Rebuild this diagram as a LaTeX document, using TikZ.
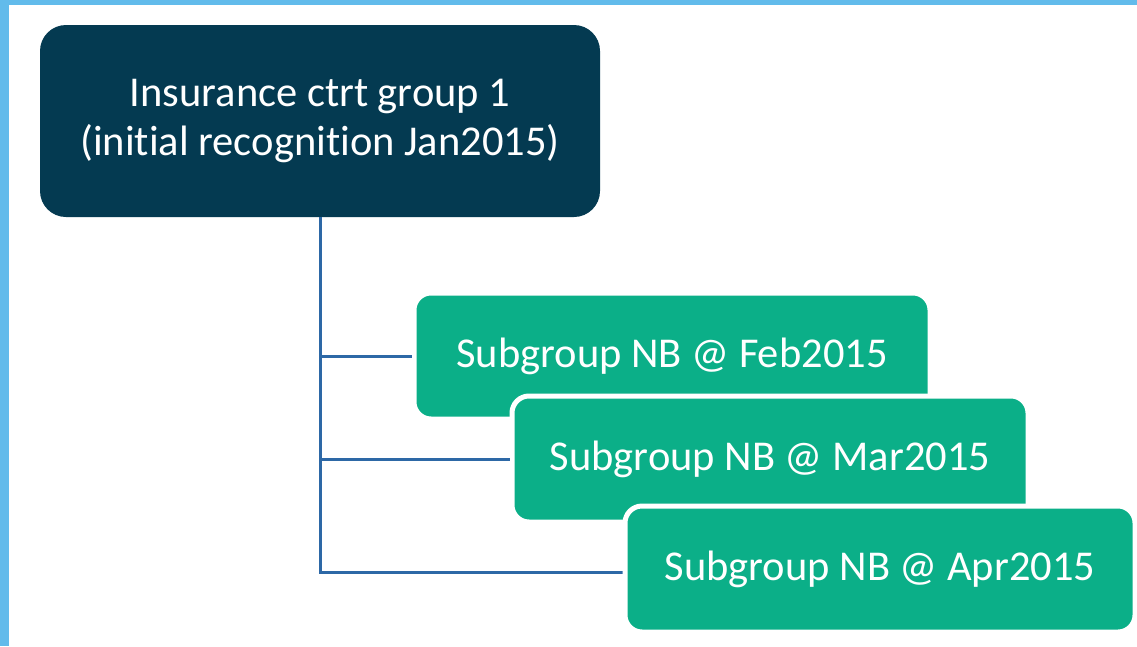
\documentclass[tikz,border=0pt]{standalone}
\usepackage{fontspec}
\setmainfont{Carlito}[Ligatures=NoCommon]
\usepackage{tikz}
\definecolor{framebl}{HTML}{62BBEB}
\definecolor{navy}{HTML}{043A51}
\definecolor{teal}{HTML}{0BAF88}
\definecolor{linkbl}{HTML}{2D68A6}

\begin{document}
\begin{tikzpicture}[x=1pt,y=-1pt,
  group/.style={fill=navy,rounded corners=26pt,minimum width=560pt,minimum height=192pt,
    text=white,align=center,font=\fontsize{42.5}{49}\selectfont,inner sep=0pt,outer sep=0pt},
  subgroup/.style={fill=teal,draw=white,line width=5pt,rounded corners=17pt,minimum height=126pt,
    text=white,font=\fontsize{42.5}{49}\selectfont,inner sep=0pt},
  link/.style={draw=linkbl,line width=3pt}]
\useasboundingbox (0,0) rectangle (1137,646);
\fill[framebl] (0,0) rectangle (1137,5);
\fill[framebl] (0,0) rectangle (9,646);
\node[group] (one) at (320,121) {Insurance ctrt group 1\\(initial recognition Jan2015)};
\draw[link] (one.south) |- (880,572);
\node[subgroup,minimum width=516pt] (two) at (672,356) {Subgroup NB @ Feb2015};
\draw[link] (one.south |- two.west) -- (two.west);
\node[subgroup,minimum width=516pt] (three) at (770,459) {Subgroup NB @ Mar2015};
\draw[link] (one.south |- three.west) -- (three.west);
\node[subgroup,minimum width=510pt] (four) at (880,569) {Subgroup NB @ Apr2015};
\end{tikzpicture}
\end{document}
